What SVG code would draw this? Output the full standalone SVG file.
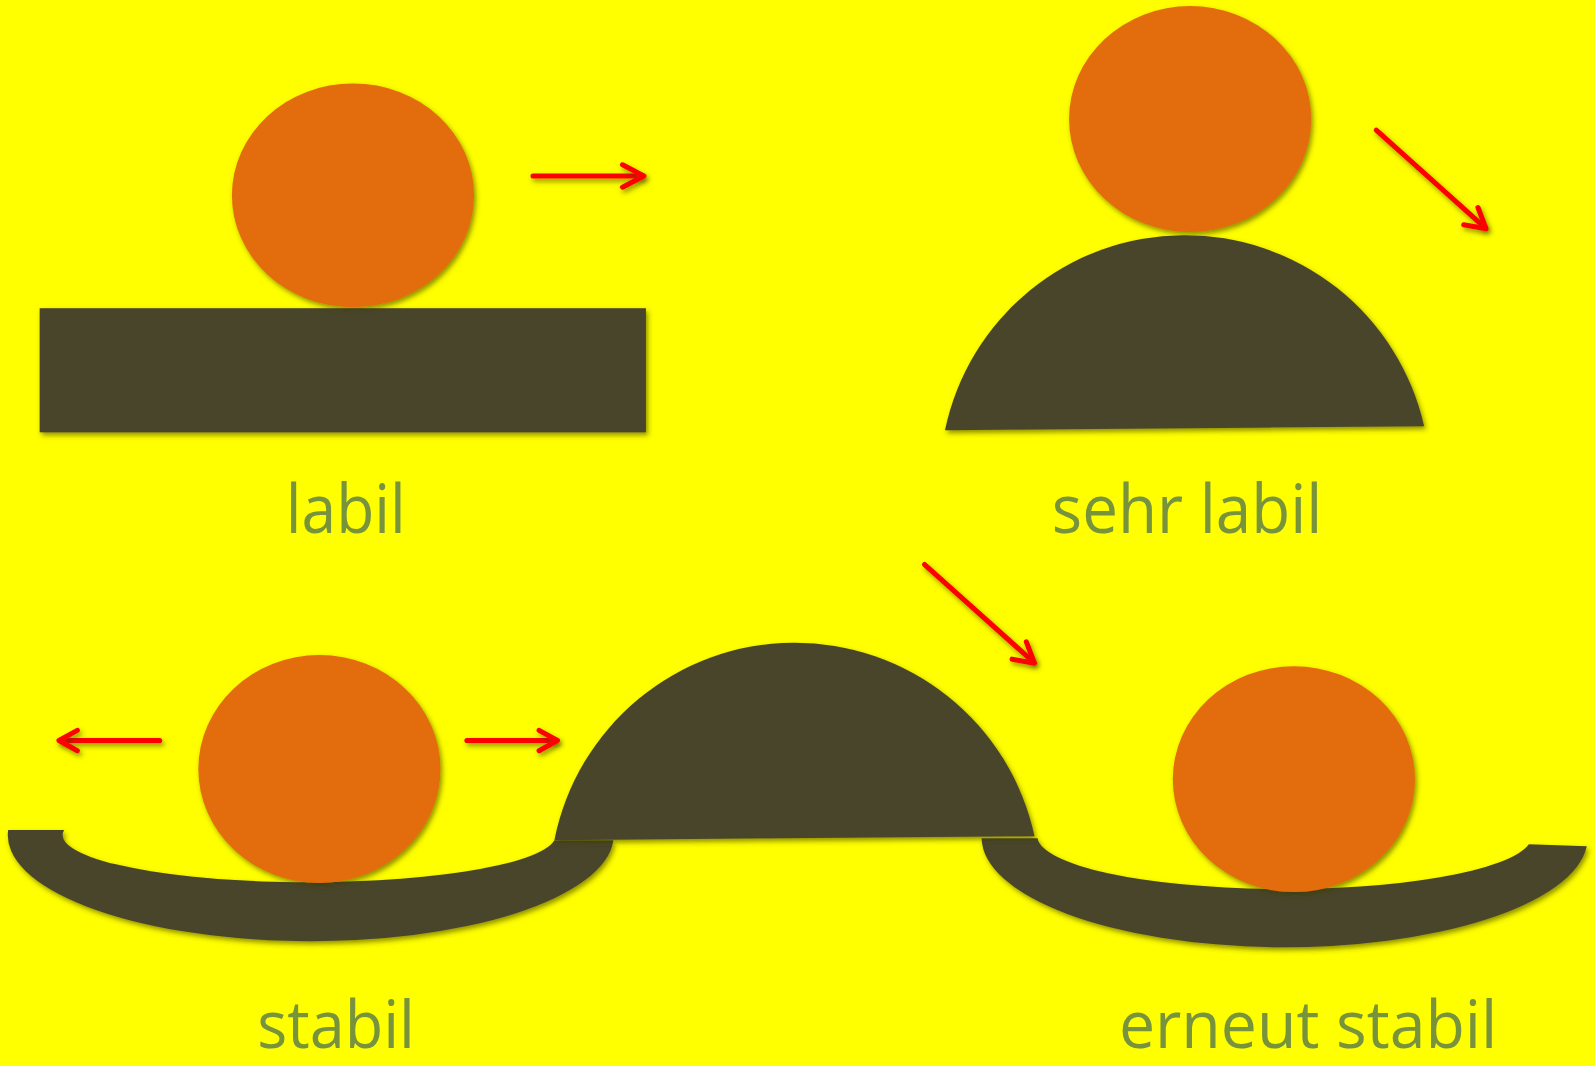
<svg xmlns="http://www.w3.org/2000/svg" width="1595" height="1066" viewBox="0 0 1595 1066">
  <defs>
    <filter id="sh" filterUnits="userSpaceOnUse" x="-50" y="-50" width="1700" height="1200">
      <feDropShadow dx="2" dy="3" stdDeviation="2.5" flood-color="#3a3a00" flood-opacity="0.55"/>
    </filter>
    <style>
      .base { fill: #4A452A; filter: url(#sh); }
      .ball { fill: #E36C09; filter: url(#sh); }
      .arr { fill: none; stroke: #FF0000; stroke-width: 5; stroke-linecap: round; stroke-linejoin: round; filter: url(#sh); }
      .lbl { fill: #77933C; font-family: "Open Sans", "Noto Sans", "Liberation Sans", sans-serif; font-size: 66px; }
      .low { font-size: 65px; }
    </style>
  </defs>
  <rect width="1595" height="1066" fill="#FFFF00"/>
  <g transform="scale(1.0172)">
    <g id="labil">
      <rect class="base" x="39" y="303" width="596" height="122"/>
      <ellipse class="ball" cx="347" cy="192" rx="119" ry="110"/>
      <text class="lbl" x="281" y="524" textLength="118" lengthAdjust="spacingAndGlyphs">labil</text>
    </g>
    <g id="sehr-labil">
      <path class="base" d="M929,423 A241,241 0 0 1 1400,419 Z"/>
      <ellipse class="ball" cx="1170" cy="117" rx="119" ry="111"/>
      <text class="lbl" x="1034" y="524" textLength="266" lengthAdjust="spacingAndGlyphs">sehr labil</text>
    </g>
    <g id="stabil">
      <path class="base" d="M8,816 L63,816 A241,46 0 0 0 545,826 L603,826 A297,104 0 0 1 8,816 Z"/>
      <text class="lbl low" x="253" y="1030.5" textLength="155" lengthAdjust="spacingAndGlyphs">stabil</text>
    </g>
    <g id="erneut-stabil">
      <path class="base" d="M965,824 L1020,824 A243,52 0 0 0 1503,830 L1560,832 A298,108 0 0 1 965,824 Z"/>
    </g>
    <g id="huegel">
      <path class="base" d="M545,826 A241,241 0 0 1 1017,822 Z"/>
    </g>
    <g id="ball-stabil">
      <ellipse class="ball" cx="314" cy="756" rx="119" ry="112"/>
    </g>
    <g id="ball-erneut">
      <ellipse class="ball" cx="1272" cy="766" rx="119" ry="111"/>
      <text class="lbl low" x="1100" y="1030.5" textLength="372" lengthAdjust="spacingAndGlyphs">erneut stabil</text>
    </g>
    <g id="connectors">
      <g>
        <line class="arr" x1="524" y1="173" x2="631" y2="173"/>
        <polyline class="arr" points="612,162 633,173 612,184"/>
      </g>
      <g>
        <line class="arr" x1="1353" y1="128" x2="1459" y2="223"/>
        <polyline class="arr" points="1439,221 1461,225 1453,204"/>
      </g>
      <g>
        <line class="arr" x1="909" y1="555" x2="1015" y2="650"/>
        <polyline class="arr" points="995,648 1017,652 1009,631"/>
      </g>
      <g>
        <line class="arr" x1="157" y1="728" x2="60" y2="728"/>
        <polyline class="arr" points="76,718 58,728 76,738"/>
      </g>
      <g>
        <line class="arr" x1="459" y1="728" x2="546" y2="728"/>
        <polyline class="arr" points="530,718 548,728 530,738"/>
      </g>
    </g>
  </g>
</svg>
